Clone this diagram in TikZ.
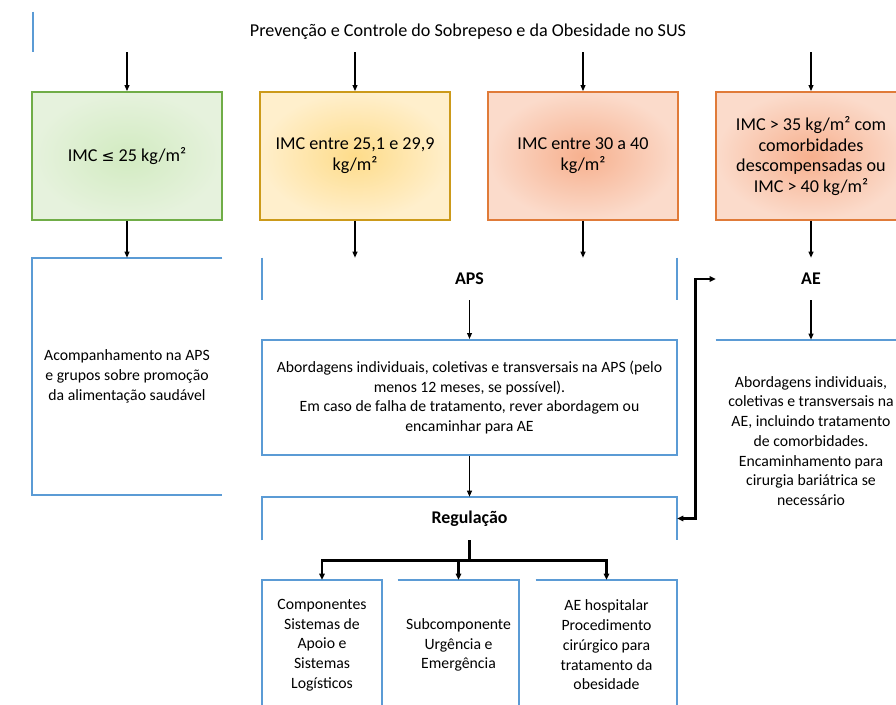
\documentclass[tikz,border=0pt]{standalone}
\usepackage{fontspec}
\setmainfont{Carlito}
\newfontfamily\simbolo{DejaVu Sans}[Scale=0.85]
\usetikzlibrary{shapes,arrows,positioning,arrows.meta}
\usepackage{xcolor}

\definecolor{azul}{HTML}{5B9BD5}
\definecolor{verdeborda}{HTML}{70AD47}
\definecolor{verdeclaro}{HTML}{E6F2DD}
\definecolor{verdemeio}{HTML}{D2EBC1}
\definecolor{amareloborda}{HTML}{CC9A1A}
\definecolor{amareloclaro}{HTML}{FFEFCC}
\definecolor{amarelomeio}{HTML}{FEDC8A}
\definecolor{laranjaborda}{HTML}{E07B39}
\definecolor{laranjaclaro}{HTML}{FBDBCB}
\definecolor{laranjameio}{HTML}{F7B08E}

\newdimen\px
\px=0.75pt

\begin{document}
\begin{tikzpicture}[x=0.75pt, y=-0.75pt, node distance=228\px]
    \tikzstyle{imc} = [rectangle, minimum width=190\px, minimum height=128\px, inner sep=0pt, align=center, line width=1.3pt, font=\fontsize{13.6}{15.6}\selectfont]
    \tikzstyle{caixa} = [rectangle, inner sep=0pt, align=center, font=\fontsize{11.8}{14.8}\selectfont]
    \tikzstyle{rotulo} = [rectangle, inner sep=0pt, font=\fontsize{13.4}{15}\selectfont\bfseries]
    \tikzstyle{borda} = [draw=azul, line width=1.5pt]
    \tikzstyle{seta} = [-{Triangle[length=4.5pt, width=3.6pt]}, line width=1pt]
    \tikzstyle{setagrossa} = [-{Triangle[length=4.5pt, width=4pt]}, line width=1.9pt]
    \tikzstyle{setadupla} = [{Triangle[length=4.5pt, width=4pt]}-{Triangle[length=4.5pt, width=4pt]}, line width=1.9pt]

    \useasboundingbox (0,0) rectangle (896,704);
    \clip (0,0) rectangle (896,704);

    % titulo
    \node (titulo) [rectangle, minimum width=870\px, minimum height=40\px, inner sep=0pt, font=\fontsize{13.6}{15}\selectfont] at (468,32) {Prevenção e Controle do Sobrepeso e da Obesidade no SUS};
    \draw [borda] (titulo.north west) -- (titulo.south west);

    % faixas de IMC
    \node (imc1) [imc, draw=verdeborda, inner color=verdemeio, outer color=verdeclaro] at (127,156) {IMC {\simbolo ≤} 25 kg/m²};
    \node (imc2) [imc, draw=amareloborda, inner color=amarelomeio, outer color=amareloclaro, right of=imc1] {IMC entre 25,1 e 29,9\\kg/m²};
    \node (imc3) [imc, draw=laranjaborda, inner color=laranjameio, outer color=laranjaclaro, right of=imc2] {IMC entre 30 a 40\\kg/m²};
    \node (imc4) [imc, draw=laranjaborda, inner color=laranjameio, outer color=laranjaclaro, right of=imc3] {IMC > 35 kg/m² com\\comorbidades\\descompensadas ou\\IMC > 40 kg/m²};

    \draw [seta] (titulo.south -| imc1.north) -- (imc1.north);
    \draw [seta] (titulo.south -| imc2.north) -- (imc2.north);
    \draw [seta] (titulo.south -| imc3.north) -- (imc3.north);
    \draw [seta] (titulo.south -| imc4.north) -- (imc4.north);

    % coluna esquerda
    \node (acomp) [caixa, minimum width=190\px, minimum height=237\px] at (127,376.5) {Acompanhamento na APS\\e grupos sobre promoção\\da alimentação saudável};
    \draw [borda] (acomp.north east) -- (acomp.north west) -- (acomp.south west) -- (acomp.south east);
    \draw [seta] (imc1.south) -- (acomp.north);

    % APS
    \node (apsbox) [rotulo, minimum width=415\px, minimum height=42\px] at (469.5,279) {APS};
    \draw [borda] (apsbox.north west) -- (apsbox.south west);
    \draw [borda] (apsbox.north east) -- (apsbox.south east);
    \draw [seta] (imc2.south) -- (imc2.south |- apsbox.north);
    \draw [seta] (imc3.south) -- (imc3.south |- apsbox.north);

    \node (abordaps) [caixa, borda, minimum width=415\px, minimum height=115\px] at (469.5,397.5) {Abordagens individuais, coletivas e transversais na APS (pelo\\menos 12 meses, se possível).\\Em caso de falha de tratamento, rever abordagem ou\\encaminhar para AE};
    \draw [seta] (apsbox.south) -- (abordaps.north);

    \node (regul) [rotulo, minimum width=415\px, minimum height=43\px] at (469.5,518.5) {Regulação};
    \draw [borda] (regul.south west) -- (regul.north west) -- (regul.north east) -- (regul.south east);
    \draw [seta] (abordaps.south) -- (regul.north);

    % componentes
    \node (comp1) [caixa, minimum width=120\px, minimum height=130\px] at (322,645) {Componentes\\Sistemas de\\Apoio e\\Sistemas\\Logísticos};
    \node (comp2) [caixa, minimum width=121\px, minimum height=130\px] at (458.5,645) {Subcomponente\\Urgência e\\Emergência};
    \node (comp3) [caixa, minimum width=141\px, minimum height=130\px] at (606.5,645) {AE hospitalar\\Procedimento\\cirúrgico para\\tratamento da\\obesidade};
    \draw [borda] (comp1.south west) -- (comp1.north west) -- (comp1.north east) -- (comp1.south east);
    \draw [borda] (comp2.north west) -- (comp2.north east) -- (comp2.south east);
    \draw [borda] (comp3.north west) -- (comp3.north east) -- (comp3.south east);

    \draw [setagrossa] (regul.south) -- ++(0,20) -| (comp1.north);
    \draw [setagrossa] (regul.south) -- ++(0,20) -| (comp2.north);
    \draw [setagrossa] (regul.south) -- ++(0,20) -| (comp3.north);

    % AE
    \node (aebox) [rotulo, minimum width=190\px, minimum height=42\px] at (811,279) {AE};
    \draw [seta] (imc4.south) -- (aebox.north);

    \node (aeabord) [caixa, minimum width=190\px, minimum height=202\px] at (811,441) {Abordagens individuais,\\coletivas e transversais na\\AE, incluindo tratamento\\de comorbidades.\\Encaminhamento para\\cirurgia bariátrica se\\necessário};
    \draw [borda] (aeabord.north west) -- (aeabord.north east);
    \draw [seta] (aebox.south) -- (aeabord.north);

    \draw [setadupla] (regul.east) -| ([xshift=-20\px]aebox.west) -- (aebox.west);

\end{tikzpicture}
\end{document}
